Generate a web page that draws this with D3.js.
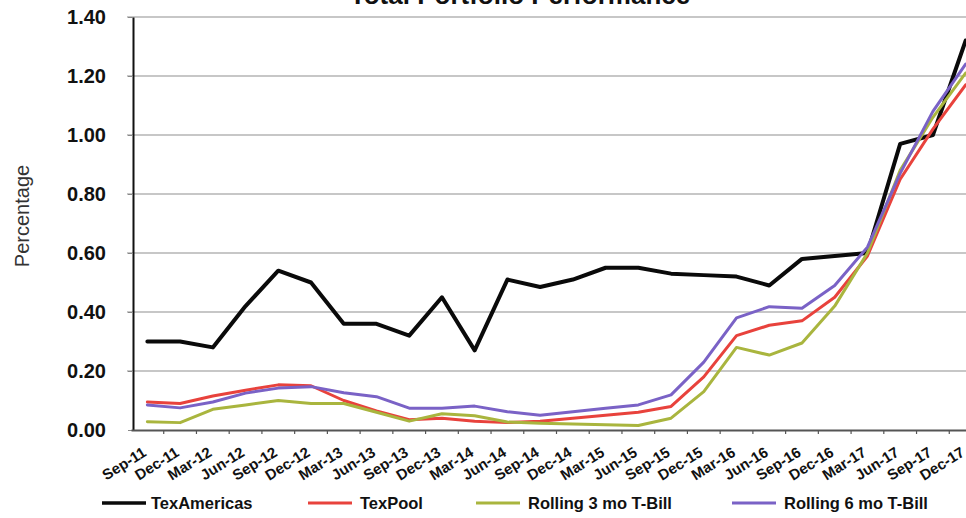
<!DOCTYPE html>
<html>
<head>
<meta charset="utf-8">
<script src="https://cdn.jsdelivr.net/npm/d3@7/dist/d3.min.js"></script>
<style>
  html, body { margin: 0; padding: 0; background: #fff; }
  svg { display: block; font-family: "Liberation Sans", Arial, sans-serif; }
</style>
</head>
<body>
<svg id="chart" width="966" height="518"></svg>
<script>
// Quarterly reporting periods
const categories = ["Sep-11","Dec-11","Mar-12","Jun-12","Sep-12","Dec-12","Mar-13","Jun-13",
  "Sep-13","Dec-13","Mar-14","Jun-14","Sep-14","Dec-14","Mar-15","Jun-15","Sep-15","Dec-15",
  "Mar-16","Jun-16","Sep-16","Dec-16","Mar-17","Jun-17","Sep-17","Dec-17"];

// Yields (percent) per quarter
const texAmericas = [0.30,0.30,0.28,0.42,0.54,0.50,0.36,0.36,0.32,0.45,0.27,0.51,0.485,0.51,
  0.55,0.55,0.53,0.525,0.52,0.49,0.58,0.59,0.60,0.97,1.00,1.32];
const texPool = [0.095,0.09,0.115,0.135,0.153,0.15,0.10,0.065,0.035,0.04,0.03,0.025,0.03,0.04,
  0.05,0.06,0.08,0.18,0.32,0.355,0.37,0.45,0.59,0.85,1.02,1.17];
const rolling3 = [0.028,0.025,0.07,0.085,0.10,0.09,0.09,0.06,0.03,0.055,0.048,0.027,0.023,0.02,
  0.018,0.015,0.04,0.13,0.28,0.254,0.295,0.42,0.60,0.88,1.06,1.21];
const rolling6 = [0.085,0.075,0.095,0.125,0.142,0.147,0.126,0.113,0.074,0.074,0.081,0.062,0.05,
  0.062,0.074,0.085,0.119,0.23,0.38,0.418,0.413,0.49,0.62,0.87,1.08,1.24];

const yTicks = [0, 0.2, 0.4, 0.6, 0.8, 1.0, 1.2, 1.4];

const seriesNames = ["TexAmericas", "TexPool", "Rolling 3 mo T-Bill", "Rolling 6 mo T-Bill"];
const seriesValues = [texAmericas, texPool, rolling3, rolling6];
const seriesColors = ["#0a0a0a", "#e8423c", "#a9b53e", "#7a62c6"];
const seriesWidths = [4, 3, 3, 3];

const svg = d3.select("#chart");
svg.append("rect").attr("width", 966).attr("height", 518).attr("fill", "#fff");

const x = d3.scaleBand().domain(categories).range([131, 982]).padding(0);
const cx = c => x(c) + x.bandwidth() / 2;
const y = d3.scaleLinear().domain([0, 1.4]).range([430, 17]);

// Title (sits at the very top edge)
svg.append("text")
  .attr("x", 520).attr("y", 4)
  .attr("text-anchor", "middle")
  .attr("font-size", 26).attr("font-weight", "bold")
  .attr("fill", "#111")
  .text("Total Portfolio Performance");

// Horizontal gridlines
svg.append("g").selectAll("line")
  .data(yTicks.filter(d => d > 0))
  .join("line")
  .attr("x1", 127).attr("x2", 982)
  .attr("y1", d => y(d)).attr("y2", d => y(d))
  .attr("stroke", "#b5b5b5").attr("stroke-width", 1.5);

// Y axis
const yAxis = svg.append("g")
  .attr("transform", "translate(133,0)")
  .call(d3.axisLeft(y).tickValues(yTicks).tickFormat(d3.format(".2f")).tickSize(5).tickPadding(22).tickSizeOuter(0));
yAxis.select(".domain").attr("stroke", "#111").attr("stroke-width", 2);
yAxis.selectAll(".tick line").attr("stroke", "#888");
yAxis.selectAll("text")
  .attr("font-size", 20).attr("font-weight", "bold").attr("fill", "#111")
  .attr("font-family", "'Liberation Sans', Arial, sans-serif");

// Y axis title
svg.append("text")
  .attr("transform", "translate(29,216) rotate(-90)")
  .attr("text-anchor", "middle")
  .attr("font-size", 20).attr("fill", "#333")
  .text("Percentage");

// X axis
const xAxis = svg.append("g")
  .attr("transform", "translate(0,430)")
  .call(d3.axisBottom(x).tickSize(0).tickSizeOuter(0).tickPadding(0));
xAxis.select(".domain").attr("stroke", "#555").attr("stroke-width", 2);
xAxis.selectAll("text")
  .attr("font-size", 15).attr("font-weight", "bold").attr("fill", "#111")
  .attr("font-family", "'Liberation Sans', Arial, sans-serif")
  .attr("text-anchor", "end")
  .attr("dy", 0)
  .attr("transform", "translate(0,25) rotate(-32)");

// Category separators on the x axis
svg.append("g").selectAll("line")
  .data(categories.slice(1))
  .join("line")
  .attr("x1", d => x(d)).attr("x2", d => x(d))
  .attr("y1", 430).attr("y2", 434)
  .attr("stroke", "#555").attr("stroke-width", 1.2);

// Series lines
const line = d3.line()
  .x((d, i) => cx(categories[i]))
  .y(d => y(d));

svg.append("g").selectAll("path")
  .data(seriesValues)
  .join("path")
  .attr("d", d => line(d))
  .attr("fill", "none")
  .attr("stroke", (d, i) => seriesColors[i])
  .attr("stroke-width", (d, i) => seriesWidths[i])
  .attr("stroke-linejoin", "round")
  .attr("stroke-linecap", "round");

// Legend
const legendX = [102, 308, 476, 732];
const legend = svg.append("g").selectAll("g")
  .data(seriesNames)
  .join("g")
  .attr("transform", (d, i) => `translate(${legendX[i]},503)`);
legend.append("line")
  .attr("x1", 0).attr("x2", 44).attr("y1", 0).attr("y2", 0)
  .attr("stroke", (d, i) => seriesColors[i])
  .attr("stroke-width", (d, i) => i === 0 ? 3.5 : 3);
legend.append("text")
  .attr("x", (d, i) => i === 0 ? 49 : 52).attr("y", 6)
  .attr("font-size", 16.5).attr("font-weight", "bold").attr("fill", "#111")
  .text(d => d);
</script>
</body>
</html>
